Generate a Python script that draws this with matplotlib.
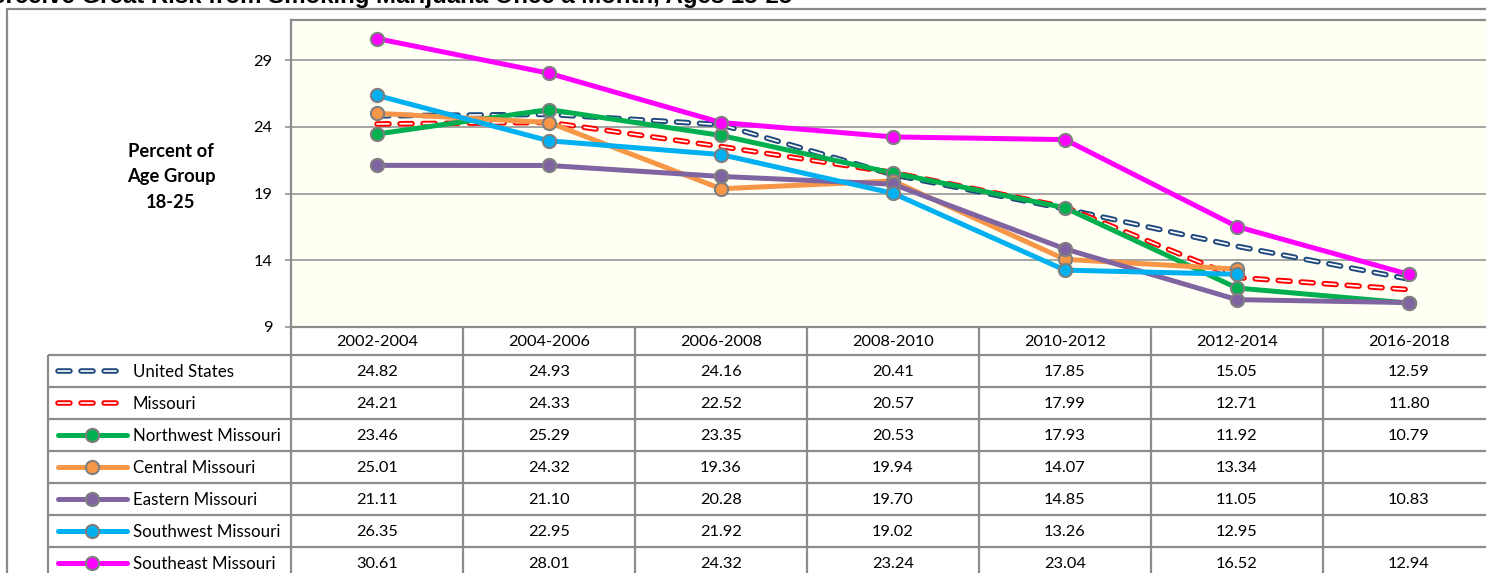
import numpy as np
import matplotlib.pyplot as plt

plt.rcParams['font.family'] = ['Lato', 'DejaVu Sans']
plt.rcParams['lines.scale_dashes'] = False

# ---- data ----
periods = ['2002-2004', '2004-2006', '2006-2008', '2008-2010',
           '2010-2012', '2012-2014', '2016-2018']
series_names = ['United States', 'Missouri', 'Northwest Missouri', 'Central Missouri',
                'Eastern Missouri', 'Southwest Missouri', 'Southeast Missouri']
united_states = [24.82, 24.93, 24.16, 20.41, 17.85, 15.05, 12.59]
missouri = [24.21, 24.33, 22.52, 20.57, 17.99, 12.71, 11.80]
northwest_mo = [23.46, 25.29, 23.35, 20.53, 17.93, 11.92, 10.79]
central_mo = [25.01, 24.32, 19.36, 19.94, 14.07, 13.34, np.nan]
eastern_mo = [21.11, 21.10, 20.28, 19.70, 14.85, 11.05, 10.83]
southwest_mo = [26.35, 22.95, 21.92, 19.02, 13.26, 12.95, np.nan]
southeast_mo = [30.61, 28.01, 24.32, 23.24, 23.04, 16.52, 12.94]
yticks = [9, 14, 19, 24, 29]

all_series = [united_states, missouri, northwest_mo, central_mo,
              eastern_mo, southwest_mo, southeast_mo]
colors = ['#1F497D', '#FF0000', '#00B050', '#F79646', '#8064A2', '#00B0F0', '#FF00FF']
dashed = [True, True, False, False, False, False, False]

W, H = 1486, 573
GRID = '#8C8C8C'
EDGE = '#7F7F7F'
LW = 3.6
DASH = (0, (8.6, 8.0))
FS = 11.8

# plot area / table geometry in pixels
plot_left, plot_top, plot_bottom = 291, 20, 327
col_w = 172
n_cols = len(periods)
plot_right = plot_left + col_w * n_cols
table_left = 48
header_bottom = 355
row_h = 32


def draw_series(ax, xs, ys, color, is_dashed, z):
    if is_dashed:
        # outlined dashes: coloured dash with a thin white core
        ax.plot(xs, ys, color=color, lw=4.0, linestyle=DASH, dash_capstyle='round',
                dash_joinstyle='round', zorder=z)
        ax.plot(xs, ys, color='white', lw=1.2, linestyle=DASH, dash_capstyle='round',
                dash_joinstyle='round', zorder=z + 0.01)
    else:
        ax.plot(xs, ys, color=color, lw=LW, solid_capstyle='round',
                solid_joinstyle='round', zorder=z)
        ax.plot(xs, ys, linestyle='none', marker='o', ms=9.5, mfc=color,
                mec=EDGE, mew=1.5, zorder=z + 0.5)


fig = plt.figure(figsize=(W / 100, H / 100), dpi=100)

# full-figure overlay in pixel coordinates for the frame and data table
ov = fig.add_axes([0, 0, 1, 1])
ov.set_xlim(0, W)
ov.set_ylim(H, 0)
ov.axis('off')

ax = fig.add_axes([plot_left / W, 1 - plot_bottom / H,
                   (plot_right - plot_left) / W, (plot_bottom - plot_top) / H])
ax.set_facecolor('#FFFFF4')
ax.set_xlim(-0.5, n_cols - 0.5)
ax.set_ylim(9, 32)
ax.set_xticks([])
ax.set_yticks(yticks)
ax.tick_params(axis='y', length=4.5, width=1.1, color=GRID, pad=9, labelsize=FS)
ax.yaxis.grid(True, color=GRID, lw=1.1)
ax.set_axisbelow(True)
for side in ['left', 'bottom', 'top', 'right']:
    ax.spines[side].set_color(GRID)
    ax.spines[side].set_linewidth(1.6)

x = np.arange(n_cols)
for k, (vals, color, dsh) in enumerate(zip(all_series, colors, dashed)):
    vals = np.array(vals, dtype=float)
    ok = ~np.isnan(vals)
    draw_series(ax, x[ok], vals[ok], color, dsh, 3 + k)

# y-axis caption
fig.text(171 / W, 1 - 177 / H, 'Percent of\nAge Group\n18-25', ha='center', va='center',
         fontsize=13.2, fontweight='bold', linespacing=1.62)

# chart title (sits at the very top edge)
fig.text(792 / W, 1 - 3 / H,
         'Percent Who Perceive Great Risk from Smoking Marijuana Once a Month, Ages 18-25',
         ha='right', va='baseline', fontsize=17.3, fontweight='bold', family='Liberation Sans')

# outer chart frame
ov.plot([7, 7, W + 10], [H + 10, 9, 9], color='#898989', lw=1.6, solid_capstyle='butt')

# ---- data table ----
n_rows = len(series_names)
table_bottom = header_bottom + row_h * n_rows
tkw = dict(color=GRID, lw=1.6, solid_capstyle='butt')
for r in range(n_rows + 1):
    y = header_bottom + r * row_h
    ov.plot([table_left, W + 10], [y, y], **tkw)
ov.plot([table_left, table_left], [header_bottom, table_bottom], **tkw)
for c in range(n_cols + 1):
    xc = plot_left + c * col_w
    ov.plot([xc, xc], [plot_bottom, table_bottom], **tkw)

for c, label in enumerate(periods):
    ov.text(plot_left + (c + 0.5) * col_w, (plot_bottom + header_bottom) / 2 + 1, label,
            ha='center', va='center', fontsize=FS)

for r, (name, vals, color, dsh) in enumerate(zip(series_names, all_series, colors, dashed)):
    yc = header_bottom + (r + 0.5) * row_h
    if dsh:
        draw_series(ov, [58, 124], [yc, yc], color, True, 5)
    else:
        ov.plot([58, 127], [yc, yc], color=color, lw=LW, solid_capstyle='round', zorder=5)
        ov.plot([92], [yc], linestyle='none', marker='o', ms=9.5, mfc=color,
                mec=EDGE, mew=1.5, zorder=6)
    ov.text(133, yc + 1, name, ha='left', va='center', fontsize=FS + 0.4)
    for c, v in enumerate(vals):
        if not np.isnan(v):
            ov.text(plot_left + (c + 0.5) * col_w, yc + 1, f'{v:.2f}',
                    ha='center', va='center', fontsize=FS)

fig.savefig('out.png', dpi=100)
